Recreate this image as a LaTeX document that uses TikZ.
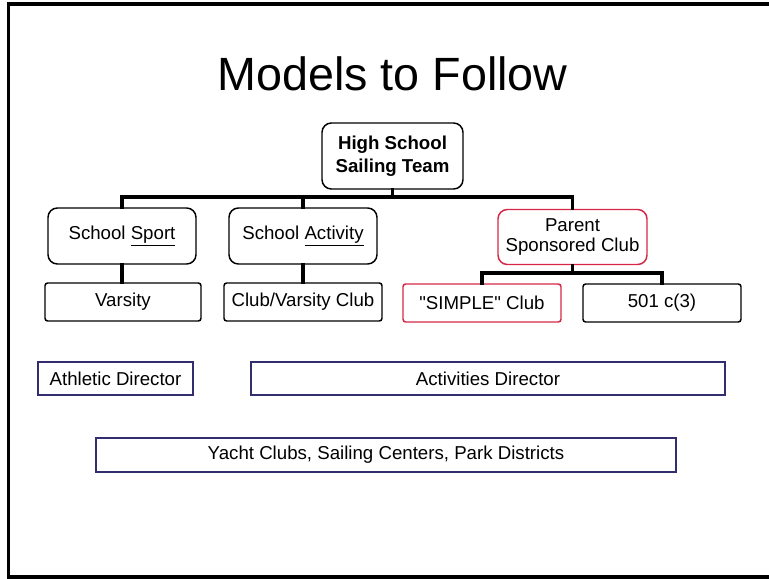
\documentclass[tikz,border=0pt]{standalone}
\usepackage{fontspec}
\setmainfont{Liberation Sans}[Ligatures=TeXOff]
\definecolor{redb}{RGB}{214,40,70}
\definecolor{navyb}{RGB}{50,45,110}
\begin{document}
\begin{tikzpicture}[x=0.75pt,y=-0.75pt,
  box/.style={draw=black,line width=1.1pt,inner sep=0pt,align=center,font=\fontsize{14}{15}\selectfont},
  rbox/.style={box,rounded corners=7pt},
  sbox/.style={box,rounded corners=2pt},
  redbox/.style={draw=redb},
  navybox/.style={box,draw=navyb,line width=1.3pt},
  conn/.style={line width=2.4pt,line cap=rect},
]
\useasboundingbox (0,0) rectangle (769,579);
\draw[line width=2.4pt] (790,4) -- (8.5,4) -- (8.5,577) -- (790,577);

\node[anchor=base,font=\fontsize{35}{40}\selectfont] (title) at (392.5,90) {Models to Follow};

\node[rbox,font=\fontsize{14}{17}\selectfont\bfseries,minimum width=141*0.75pt,minimum height=66*0.75pt] (top) at (392.5,156) {High School\\Sailing Team};

\node[rbox,minimum width=148*0.75pt,minimum height=56*0.75pt] (sport) at (122,236) {School \underline{Sport}};
\node[rbox,minimum width=148*0.75pt,minimum height=56*0.75pt] (activity) at (303,236) {School \underline{Activity}};
\node[rbox,redbox,font=\fontsize{14}{15}\selectfont,minimum width=149*0.75pt,minimum height=55*0.75pt] (parent) at (572.5,237) {Parent\\Sponsored Club};

\node[sbox,minimum width=156*0.75pt,minimum height=38*0.75pt] (varsity) at (123,302) {Varsity};
\node[sbox,minimum width=158*0.75pt,minimum height=38*0.75pt] (cvc) at (303,302) {Club/Varsity Club};
\node[sbox,redbox,minimum width=158*0.75pt,minimum height=38*0.75pt] (simple) at (482,303) {"SIMPLE" Club};
\node[sbox,minimum width=158*0.75pt,minimum height=38*0.75pt] (c3) at (662,303) {501 c(3)};

\node[navybox,minimum width=155*0.75pt,minimum height=33*0.75pt] (athletic) at (115.5,378.5) {Athletic Director};
\node[navybox,minimum width=474*0.75pt,minimum height=33*0.75pt] (activities) at (488,378.5) {Activities Director};
\node[navybox,minimum width=580*0.75pt,minimum height=34*0.75pt] (yacht) at (386,455) {Yacht Clubs, Sailing Centers, Park Districts};

\coordinate (bus) at (392.5,197);
\coordinate (bus2) at (572.5,273);
\draw[conn] (top.south) -- (bus);
\draw[conn] (sport.north) |- (bus) -| (parent.north);
\draw[conn] (activity.north) -- (activity.north |- bus);
\draw[conn] (sport.south) -- (sport.south |- varsity.north);
\draw[conn] (activity.south) -- (activity.south |- cvc.north);
\draw[conn] (parent.south) -- (bus2);
\draw[conn] (simple.north) |- (bus2) -| (c3.north);
\end{tikzpicture}
\end{document}
